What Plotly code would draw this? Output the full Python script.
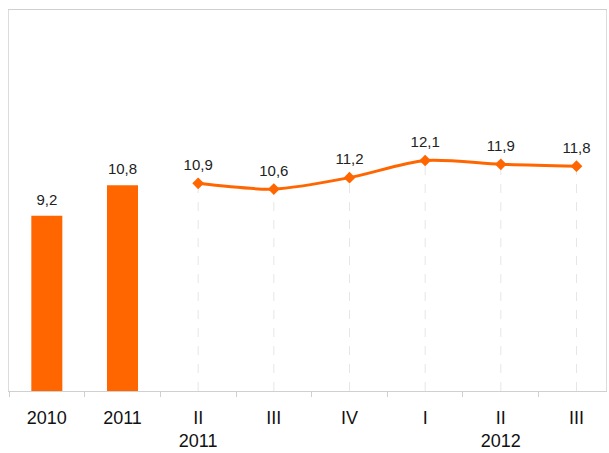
import plotly.graph_objects as go

# Annual values (bars)
year_cats = ["2010", "2011"]
year_vals = [9.2, 10.8]

# Quarterly values (line)
quarter_cats = ["II-2011", "III-2011", "IV-2011", "I-2012", "II-2012", "III-2012"]
quarter_vals = [10.9, 10.6, 11.2, 12.1, 11.9, 11.8]

# Axis tick labels
tick_cats = year_cats + quarter_cats
tick_labels = ["2010", "2011", "II<br>2011", "III", "IV", "I", "II<br>2012", "III"]

ORANGE = "#FF6600"
FONT = "Liberation Sans, Arial, sans-serif"
LABEL_FONT = dict(family=FONT, size=15, color="#222222")

fig = go.Figure()

# faint dashed drop lines from each quarterly point down to the axis
drop_x, drop_y = [], []
for c, v in zip(quarter_cats, quarter_vals):
    drop_x += [c, c, None]
    drop_y += [0, v, None]
fig.add_trace(go.Scatter(
    x=drop_x, y=drop_y, mode="lines",
    line=dict(color="#e6e6e6", width=1, dash="dash"),
    hoverinfo="skip", showlegend=False,
))

fig.add_trace(go.Bar(
    x=year_cats, y=year_vals,
    marker=dict(color=ORANGE, line=dict(width=0)),
    width=0.41, showlegend=False,
))

fig.add_trace(go.Scatter(
    x=quarter_cats, y=quarter_vals,
    mode="lines+markers",
    line=dict(color=ORANGE, width=3, shape="spline", smoothing=0.8),
    marker=dict(symbol="diamond", size=9, color=ORANGE),
    showlegend=False,
))

# value labels: invisible markers push the text a little above each mark
fig.add_trace(go.Scatter(
    x=year_cats, y=year_vals, mode="markers+text",
    marker=dict(size=10, opacity=0),
    texttemplate="%{y:.1f}", textposition="top center",
    textfont=LABEL_FONT, cliponaxis=False, showlegend=False, hoverinfo="skip",
))
fig.add_trace(go.Scatter(
    x=quarter_cats, y=quarter_vals, mode="markers+text",
    marker=dict(size=14, opacity=0),
    texttemplate="%{y:.1f}", textposition="top center",
    textfont=LABEL_FONT, cliponaxis=False, showlegend=False, hoverinfo="skip",
))

fig.update_layout(
    width=609, height=453,
    margin=dict(l=9, r=2, t=10, b=59),
    paper_bgcolor="white", plot_bgcolor="white",
    separators=", ",
    font=dict(family=FONT, size=18, color="#111111"),
    xaxis=dict(
        type="category",
        categoryorder="array", categoryarray=tick_cats,
        tickvals=tick_cats, ticktext=tick_labels,
        range=[-0.5, 7.39],
        tickson="boundaries", ticks="outside", ticklen=5, tickcolor="#d0d0d0",
        ticklabelstandoff=10,
        showline=True, linecolor="#d0d0d0", linewidth=1, mirror=True,
        showgrid=False, zeroline=False,
        tickfont=dict(family=FONT, size=18, color="#111111"),
    ),
    yaxis=dict(
        range=[0, 20],
        showticklabels=False, ticks="",
        showgrid=False, zeroline=False,
        showline=True, linecolor="#dcdcdc", linewidth=1, mirror=True,
    ),
)

fig.write_html("out.html")
